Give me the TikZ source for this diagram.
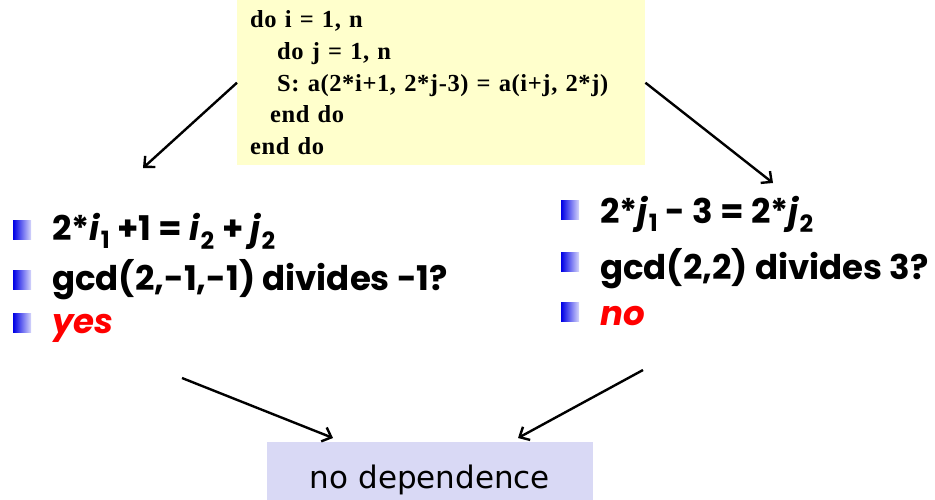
\documentclass[tikz,border=0pt]{standalone}
\usepackage{fontspec}
\usepackage{tikz}
\usetikzlibrary{arrows.meta}
\newfontfamily\codefont[LetterSpace=2.5,WordSpace=0.8]{Liberation Serif}
\newfontfamily\listfont{Poppins}
\newfontfamily\resfont{DejaVu Sans}
\definecolor{codeyellow}{RGB}{255,255,204}
\definecolor{reslilac}{RGB}{217,217,245}
\definecolor{bulletblue}{RGB}{0,0,230}

\begin{document}
\begin{tikzpicture}[x=1pt,y=-1pt,
    codebox/.style={fill=codeyellow,anchor=north west,minimum width=408pt,minimum height=165pt,
      text width=382pt,inner xsep=13pt,align=left,font=\codefont\bfseries\fontsize{24.5}{31.7}\selectfont},
    blt/.style={minimum width=18pt,minimum height=19pt,inner sep=0pt,anchor=south west,
      left color=bulletblue,right color=bulletblue!15},
    item/.style={anchor=base west,inner sep=0pt,font=\listfont\bfseries\fontsize{34}{40}\selectfont},
    resbox/.style={fill=reslilac,anchor=north,minimum width=326pt,inner ysep=4pt,
      text height=42pt,text depth=10pt,font=\resfont\fontsize{31}{36}\selectfont},
    arr/.style={line width=2.4pt,-{Straight Barb[length=8pt,width=15pt]}}]
    \useasboundingbox (0,0) rectangle (935,499);
    % loop nest
    \node at (237,0) [codebox] (code) {do i = 1, n\\
      \hspace*{27pt}do j = 1, n\\
      \hspace*{27pt}S: a(2*i+1, 2*j-3) = a(i+j, 2*j)\\
      \hspace*{20pt}end do\\
      end do};
    % left test
    \node at (13,240) [blt] (lb1) {};
    \node at (13,290) [blt] (lb2) {};
    \node at (13,333) [blt] (lb3) {};
    \node at (52,240) [item] (l1) {2*\textit{i}\textsubscript{1} +1 = \textit{i}\textsubscript{2} + \textit{j}\textsubscript{2}};
    \node at (52,290) [item] (l2) {gcd(2,-1,-1) divides -1?};
    \node at (52,333) [item] (l3) {\textcolor{red}{\textit{yes}}};
    % right test
    \node at (561,220) [blt] (rb1) {};
    \node at (561,272) [blt] (rb2) {};
    \node at (561,322) [blt] (rb3) {};
    \node at (600,223) [item] (r1) {2*\textit{j}\textsubscript{1} - 3 = 2*\textit{j}\textsubscript{2}};
    \node at (600,279) [item] (r2) {gcd(2,2) divides 3?};
    \node at (600,325) [item] (r3) {\textcolor{red}{\textit{no}}};
    % result
    \node at (430,442) [resbox] (res) {no dependence};
    \coordinate (lin) at (143,168);
    \coordinate (rin) at (773,183);
    \coordinate (lout) at (182,378);
    \coordinate (rout) at (643,370);
    \coordinate (resl) at (333,438);
    \coordinate (resr) at (518,438);
    \draw[arr] (code.west) -- (lin);
    \draw[arr] (code.east) -- (rin);
    \draw[arr] (lout) -- (resl);
    \draw[arr] (rout) -- (resr);
\end{tikzpicture}
\end{document}
